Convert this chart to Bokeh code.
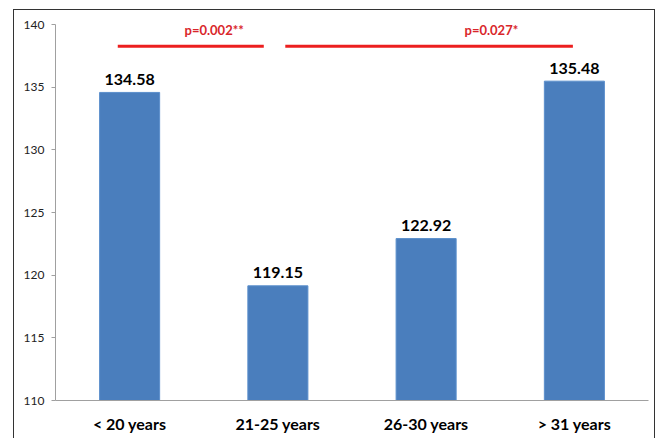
from bokeh.plotting import figure
from bokeh.models import ColumnDataSource, FixedTicker, Range1d
from bokeh.core.properties import value
from bokeh.embed import file_html
from bokeh.resources import INLINE

# Mean values per age group
categories = ["< 20 years", "21-25 years", "26-30 years", "> 31 years"]
means = [134.58, 119.15, 122.92, 135.48]
y_ticks = [110, 115, 120, 125, 130, 135, 140]

# Significance bracket labels
p_labels = ["p=0.002**", "p=0.027*"]

FONT = "Lato"
BAR_COLOR = "#4a7ebd"
RED_LINE = "#ec1f1f"
RED_TEXT = "#d9262b"

xs = list(range(len(categories)))
src = ColumnDataSource(dict(
    x=xs,
    top=means,
    label=[f"{m:.2f}" for m in means],
))

p = figure(
    width=642, height=432,
    x_range=Range1d(-0.5, 3.5), y_range=Range1d(110, 140),
    output_backend="svg", toolbar_location=None,
    min_border_left=41, min_border_right=8,
    min_border_top=14, min_border_bottom=42,
)
# thin dark frame around the whole chart area
p.styles = {"margin-left": "13px", "margin-top": "9px",
            "border": "1px solid #333333"}
p.background_fill_color = "white"
p.border_fill_color = "white"
p.outline_line_color = None
p.xgrid.visible = False
p.ygrid.visible = False

p.vbar(x="x", top="top", bottom=110, width=0.405, source=src,
       fill_color=BAR_COLOR, line_color="#5b8fcc", line_width=1)

p.text(x="x", y="top", text="label", source=src,
       text_align="center", text_baseline="alphabetic", y_offset=-13,
       text_font=value(FONT), text_font_style="bold",
       text_font_size="16px", text_color="black")

# Significance brackets
bracket_y = 138.27
p.line([-0.08, 0.905], [bracket_y, bracket_y], line_color=RED_LINE, line_width=3)
p.line([1.05, 2.99], [bracket_y, bracket_y], line_color=RED_LINE, line_width=3)
p.text(x=[0.57, 2.44], y=[139.55, 139.55], text=p_labels,
       text_align="center", text_baseline="middle",
       text_font=value(FONT), text_font_style="bold",
       text_font_size="13px", text_color=RED_TEXT)

# Axes
p.xaxis.ticker = FixedTicker(ticks=xs)
p.xaxis.major_label_overrides = {i: c for i, c in enumerate(categories)}
p.xaxis.major_tick_line_color = None
p.xaxis.minor_tick_line_color = None
p.xaxis.axis_line_color = "#a0a0a0"
p.xaxis.major_label_text_font = FONT
p.xaxis.major_label_text_font_style = "bold"
p.xaxis.major_label_text_font_size = "16px"
p.xaxis.major_label_text_color = "black"
p.xaxis.major_label_standoff = 7

p.yaxis.ticker = FixedTicker(ticks=y_ticks)
p.yaxis.minor_tick_line_color = None
p.yaxis.axis_line_color = "#a0a0a0"
p.yaxis.major_tick_line_color = "#a0a0a0"
p.yaxis.major_tick_in = 0
p.yaxis.major_tick_out = 4
p.yaxis.major_label_text_font = FONT
p.yaxis.major_label_text_font_size = "12px"
p.yaxis.major_label_text_color = "#222222"
p.yaxis.major_label_standoff = 7

open("out.html", "w").write(file_html(p, INLINE))
